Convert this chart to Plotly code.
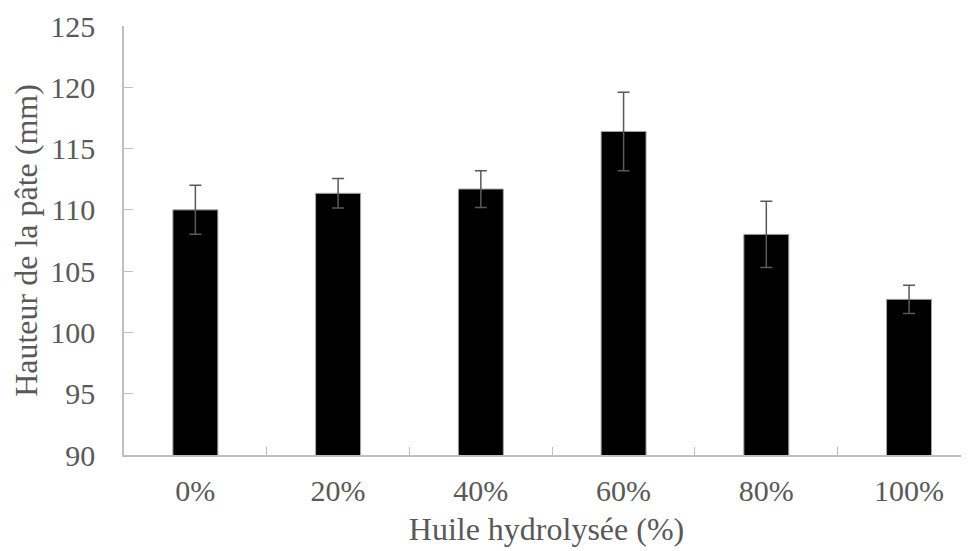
import plotly.graph_objects as go

categories = ["0%", "20%", "40%", "60%", "80%", "100%"]
values = [110.0, 111.35, 111.7, 116.4, 108.0, 102.7]
errors = [2.0, 1.2, 1.5, 3.2, 2.7, 1.15]
y_ticks = [90, 95, 100, 105, 110, 115, 120, 125]

FONT = "Liberation Serif, Times New Roman, serif"
TXT = "#595959"
AX = "#bfbfbf"

fig = go.Figure()
fig.add_trace(go.Bar(
    x=categories, y=values,
    width=0.315,
    marker=dict(color="black", line=dict(color="#a6a6a6", width=1)),
    error_y=dict(type="data", array=errors, visible=True,
                 color="#595959", thickness=1.5, width=6),
))

# page body has an 8px default margin, so the figure is sized 8px smaller
fig.update_layout(
    width=961, height=543,
    margin=dict(l=116, r=0, t=18, b=96),
    paper_bgcolor="white", plot_bgcolor="white",
    showlegend=False,
    font=dict(family=FONT, color=TXT, size=30),
    xaxis=dict(
        range=[-0.5, 5.42], showline=True, linecolor=AX, linewidth=1.5,
        ticks="inside", ticklen=8, tickcolor=AX, tickwidth=1, tickson="boundaries",
        showgrid=False, tickfont=dict(size=30, color=TXT, family=FONT),
        ticklabelstandoff=8, automargin=False,
        title=dict(text="Huile hydrolysée (%)", font=dict(size=32, color=TXT, family=FONT), standoff=12),
    ),
    yaxis=dict(
        range=[90, 125], tickvals=y_ticks, showline=True, linecolor=AX, linewidth=1.5,
        ticks="inside", ticklen=9, tickcolor=AX, tickwidth=1,
        showgrid=False, zeroline=False, tickfont=dict(size=30, color=TXT, family=FONT),
        ticklabelstandoff=21, automargin=False,
        title=dict(text="Hauteur de la pâte (mm)", font=dict(size=32, color=TXT, family=FONT), standoff=8),
    ),
)

fig.write_html("out.html")
